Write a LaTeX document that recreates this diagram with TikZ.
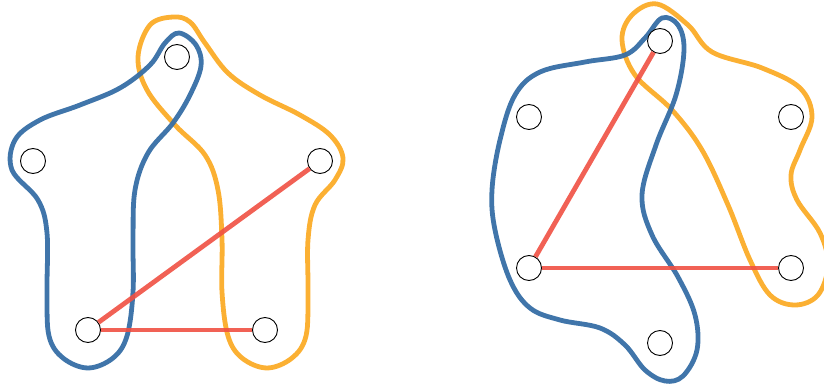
\documentclass[tikz,border=0pt]{standalone}
\begin{document}
\begin{tikzpicture}[x=1pt,y=-1pt,
  vtx/.style={circle,draw=black,line width=0.9pt,fill=white,minimum size=25pt,inner sep=0pt},
  bluec/.style={draw={rgb,255:red,54;green,110;blue,165},line width=4.8pt,opacity=0.95},
  orangec/.style={draw={rgb,255:red,251;green,172;blue,40},line width=4.8pt,opacity=0.95},
  redl/.style={draw={rgb,255:red,240;green,80;blue,66},line width=4.8pt,opacity=0.9}]
\useasboundingbox (0,0) rectangle (824,387);
\clip (0,0) rectangle (824,387);
% left figure
\draw[orangec] plot[smooth cycle, tension=0.6] coordinates {(173,17) (150,25) (138,57) (147,90) (175,125) (205,155) (218,190) (222,240) (222,292) (228,336) (242,358) (267,368) (292,358) (306,336) (308,292) (308,240) (315,205) (335,180) (343,158) (330,135) (300,115) (260,95) (228,73) (205,43) (190,22)};
\draw[bluec] plot[smooth cycle, tension=0.6] coordinates {(179,33) (196,45) (201,66) (190,95) (173,123) (148,153) (135,190) (133,240) (133,292) (127,336) (113,358) (88,368) (63,358) (49,336) (47,292) (47,233) (38,200) (12,170) (15,140) (40,120) (80,105) (120,88) (150,65) (165,43)};
% right figure
\draw[orangec] plot[smooth cycle, tension=0.6] coordinates {(657,4) (632,15) (622,40) (635,75) (672,110) (702,150) (728,205) (750,260) (770,295) (795,305) (818,295) (828,265) (820,233) (797,200) (791,175) (800,150) (812,117) (800,88) (762,68) (712,52) (688,25)};
\draw[bluec] plot[smooth cycle, tension=0.6] coordinates {(662,18) (678,25) (684,50) (676,95) (656,145) (642,195) (652,235) (678,277) (695,315) (697,350) (683,376) (665,381) (645,370) (625,345) (600,328) (560,320) (530,308) (510,280) (495,230) (492,190) (500,140) (515,95) (540,72) (585,62) (625,55) (645,38)};
% nodes
\node[vtx] (lt) at (177,57) {};
\node[vtx] (ll) at (33,161) {};
\node[vtx] (lr) at (320,161) {};
\node[vtx] (lbl) at (88,330) {};
\node[vtx] (lbr) at (265,330) {};
\node[vtx] (rt) at (660,41) {};
\node[vtx] (rlu) at (529,117) {};
\node[vtx] (rru) at (791,117) {};
\node[vtx] (rll) at (529,268) {};
\node[vtx] (rrl) at (791,268) {};
\node[vtx] (rb) at (660,343) {};
% red edges
\draw[redl] (lbl) -- (lr);
\draw[redl] (lbl) -- (lbr);
\draw[redl] (rll) -- (rt);
\draw[redl] (rll) -- (rrl);
\end{tikzpicture}
\end{document}
